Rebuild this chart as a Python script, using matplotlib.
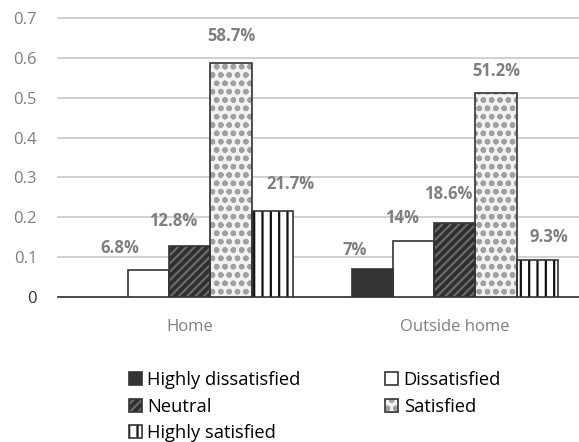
import numpy as np
import matplotlib
matplotlib.use('Agg')
import matplotlib.pyplot as plt
from matplotlib.patches import Patch
from matplotlib.legend_handler import HandlerTuple

plt.rcParams['font.family'] = ['Open Sans', 'DejaVu Sans']
plt.rcParams['hatch.linewidth'] = 1.6

places = ['Home', 'Outside home']
levels = ['Highly dissatisfied', 'Dissatisfied', 'Neutral', 'Satisfied', 'Highly satisfied']
home = [0.0, 0.068, 0.128, 0.587, 0.217]
outside = [0.07, 0.14, 0.186, 0.512, 0.093]
home_labels = ['', '6.8%', '12.8%', '58.7%', '21.7%']
outside_labels = ['7%', '14%', '18.6%', '51.2%', '9.3%']

# looks per level
faces = ['#333333', 'white', '#2e2e2e', '#f2f2f2', 'white']
hatches = [None, None, '////', 'oo', '||']
hatch_cols = ['#333333', '#333333', '#6a6a6a', '#a0a0a0', '#111111']

# label nudges in pixels (Excel placed them by hand)
home_off = [(0, 0), (-29, 13), (-17, 16), (0, 18), (18, 18)]
out_off = [(-18, 10), (-12, 14), (-7, 20), (0, 13), (12, 14)]

fig = plt.figure(figsize=(5.79, 4.42), dpi=100)
ax = fig.add_axes([0.1, 0.328, 0.9, 0.631])

x = np.arange(len(places))
w = 0.155
data = np.array([home, outside])
handles = []
for i, lev in enumerate(levels):
    pos = x + (i - 2) * w
    vals = data[:, i]
    keep = vals > 0
    ax.bar(pos[keep], vals[keep], w, color=faces[i], edgecolor=hatch_cols[i],
           linewidth=0, hatch=hatches[i], zorder=3)
    ax.bar(pos[keep], vals[keep], w, color='none', edgecolor='#333333', linewidth=1.2, zorder=4)
    fill = Patch(facecolor=faces[i], edgecolor=hatch_cols[i], linewidth=0, hatch=hatches[i])
    edge = Patch(facecolor='none', edgecolor='#333333', linewidth=1.2)
    handles.append((fill, edge))
    for j, (labs, offs) in enumerate([(home_labels, home_off), (outside_labels, out_off)]):
        if labs[i]:
            ax.annotate(labs[i], (pos[j], data[j, i]), xytext=offs[i],
                        textcoords='offset pixels', ha='center', va='bottom',
                        fontsize=12, fontweight='bold', color='#7f7f7f')

ax.set_xlim(-0.498, 1.468)
ax.set_ylim(0, 0.7)
ax.set_yticks(np.arange(0, 0.71, 0.1))
ax.set_yticklabels(['0', '0.1', '0.2', '0.3', '0.4', '0.5', '0.6', '0.7'])
ax.set_xticks(x)
ax.set_xticklabels(places)
ax.tick_params(axis='both', length=0, labelsize=12, labelcolor='#7f7f7f')
ax.tick_params(axis='y', pad=15)
ax.tick_params(axis='x', pad=16)
ax.get_yticklabels()[0].set_color('#333333')
ax.yaxis.grid(True, color='#c8c8c8', linewidth=1.2, zorder=0)
ax.set_axisbelow(True)
for s in ['top', 'right', 'left']:
    ax.spines[s].set_visible(False)
ax.spines['bottom'].set_color('#333333')
ax.spines['bottom'].set_linewidth(1.2)
for gl in ax.get_ygridlines():
    gl.set_clip_on(False)

order = [0, 2, 4, 1, 3]
fig.legend([handles[k] for k in order], [levels[k] for k in order],
           handler_map={tuple: HandlerTuple(ndivide=1, pad=0)},
           loc='upper left', bbox_to_anchor=(0.222, 0.16), ncol=2,
           frameon=False, fontsize=13.2, handlelength=0.72, handleheight=0.72,
           handletextpad=0.3, columnspacing=4.6, labelspacing=0.45,
           borderaxespad=0, borderpad=0)

fig.savefig('out.png', dpi=100)
